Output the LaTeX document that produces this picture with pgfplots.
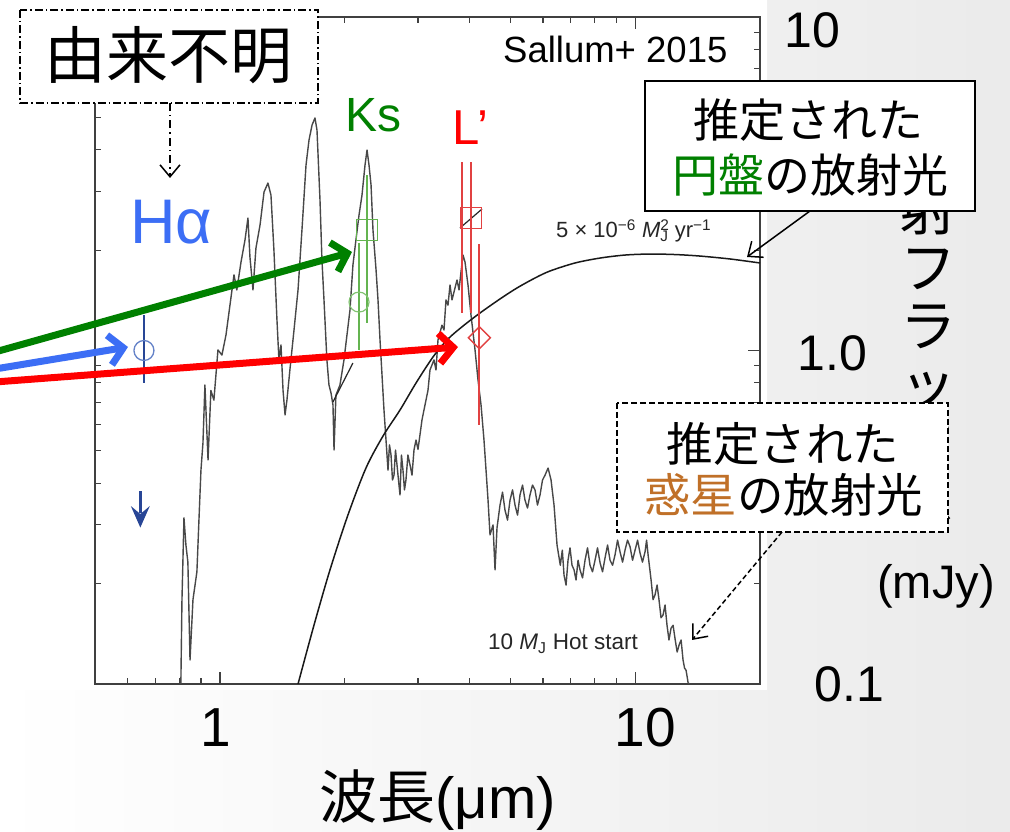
\documentclass[border=0pt]{standalone}
\usepackage{fontspec}
\setmainfont{Liberation Sans}
\newfontfamily\jp{Noto Sans CJK JP}
\usepackage{pgfplots}
\pgfplotsset{compat=1.18}
\usetikzlibrary{arrows.meta}

\definecolor{sgreen}{RGB}{0,128,0}
\definecolor{sred}{RGB}{255,0,0}
\definecolor{sblue}{RGB}{60,110,245}
\definecolor{sorange}{RGB}{192,112,40}
\definecolor{dgreen}{RGB}{100,180,80}
\definecolor{dred}{RGB}{225,65,65}
\definecolor{dblue}{RGB}{100,130,200}
\definecolor{dnavy}{RGB}{40,70,150}
\definecolor{specgray}{RGB}{72,72,72}

\pgfdeclareplotmark{uplim}{%
  \pgfsetlinewidth{2.6pt}%
  \pgfpathmoveto{\pgfqpoint{0pt}{0pt}}%
  \pgfpathlineto{\pgfqpoint{0pt}{-22pt}}%
  \pgfusepathqstroke
  \pgfpathmoveto{\pgfqpoint{0pt}{-36.5pt}}%
  \pgfpathlineto{\pgfqpoint{-9.5pt}{-15pt}}%
  \pgfpathlineto{\pgfqpoint{0pt}{-23pt}}%
  \pgfpathlineto{\pgfqpoint{9.5pt}{-15pt}}%
  \pgfpathclose
  \pgfusepathqfill
}

\begin{document}
\begin{tikzpicture}[x=1pt,y=1pt]
\useasboundingbox (0,0) rectangle (1010,832);
\clip (0,0) rectangle (1010,832);
\shade[left color=white, right color=black!8] (0,0) rectangle (1010,832);
\fill[white] (0,142) rectangle (767,832);

% y-axis title (partly hidden by the boxes)
\node[font=\jp\fontsize{56}{58}\selectfont, align=center, inner sep=0pt] at (928,508) {放\\射\\フ\\ラ\\ッ\\ク\\ス};
\node[font=\fontsize{47}{50}\selectfont, inner sep=0pt] at (936,246) {(mJy)};

\begin{axis}[
  at={(95pt,148pt)}, anchor=south west, scale only axis,
  width=665pt, height=667pt,
  xmode=log, ymode=log,
  xmin=0.5, xmax=20, ymin=0.1, ymax=10,
  axis line style={draw=black!75, line width=1.3pt},
  xtick={1,10}, ytick={0.1,1,10},
  minor xtick={0.6,0.7,0.8,0.9,2,3,4,5,6,7,8,9},
  minor ytick={0.2,0.3,0.4,0.5,0.6,0.7,0.8,0.9,2,3,4,5,6,7,8,9},
  major tick length=12pt, minor tick length=6pt,
  every tick/.style={draw=black!75, line width=1.1pt},
  xticklabels={}, yticklabels={},
  yticklabel pos=right,
  extra x ticks={0.978,10.57},
  extra x tick labels={1,10},
  extra x tick style={major tick length=0pt, xticklabel style={font=\fontsize{55}{60}\selectfont, inner sep=0pt, anchor=north, yshift=-24pt}},
  extra y ticks={9.11,0.9795,0.1},
  extra y tick labels={10,\hspace*{13pt}1.0,\hspace*{30pt}0.1},
  extra y tick style={major tick length=0pt, yticklabel style={font=\fontsize{50}{55}\selectfont, inner sep=0pt, anchor=west, xshift=24.5pt}},
]
% model spectrum: 10 M_J hot start
\addplot[specgray, line width=1.4pt, line join=round] table {
x y
0.805 0.100
0.810 0.179
0.819 0.315
0.828 0.261
0.837 0.232
0.847 0.118
0.861 0.179
0.880 0.217
0.890 0.310
0.900 0.438
0.910 0.528
0.920 0.788
0.936 0.470
0.951 0.759
0.967 0.710
0.989 1.004
1.011 0.969
1.034 1.113
1.057 1.367
1.081 1.685
1.098 1.519
1.124 1.843
1.149 2.144
1.168 2.496
1.181 1.907
1.201 1.519
1.221 2.029
1.249 2.379
1.277 2.987
1.305 3.178
1.327 2.926
1.349 2.002
1.372 1.234
1.387 0.937
1.403 1.039
1.419 0.759
1.435 0.641
1.450 0.710
1.474 0.874
1.508 1.152
1.542 1.519
1.576 2.298
1.612 3.599
1.639 4.278
1.667 4.744
1.694 4.979
1.713 4.583
1.742 2.826
1.761 1.868
1.781 1.418
1.810 0.937
1.831 0.788
1.852 0.746
1.872 0.686
1.883 0.503
1.903 0.735
1.946 0.788
1.990 0.937
2.023 1.113
2.057 1.322
2.091 1.804
2.126 2.144
2.163 2.549
2.199 2.926
2.236 3.599
2.261 3.992
2.286 3.599
2.312 3.135
2.337 2.298
2.377 1.744
2.403 1.418
2.430 1.075
2.457 0.844
2.484 0.663
2.512 0.539
2.540 0.438
2.561 0.521
2.583 0.486
2.604 0.409
2.626 0.423
2.648 0.503
2.670 0.454
2.692 0.409
2.715 0.369
2.737 0.486
2.760 0.438
2.783 0.382
2.806 0.409
2.837 0.486
2.870 0.454
2.902 0.423
2.934 0.503
2.967 0.539
3.000 0.505
3.067 0.619
3.101 0.663
3.136 0.710
3.171 0.760
3.206 0.874
3.278 0.937
3.315 0.874
3.352 1.075
3.427 1.191
3.465 1.152
3.504 1.418
3.543 1.367
3.583 1.572
3.623 1.418
3.663 1.497
3.725 1.627
3.767 1.519
3.808 1.720
3.851 1.933
3.894 1.843
3.959 1.572
4.025 1.278
4.116 1.004
4.185 0.816
4.256 0.686
4.326 0.539
4.375 0.438
4.424 0.356
4.473 0.280
4.548 0.300
4.599 0.220
4.650 0.294
4.728 0.344
4.794 0.376
4.861 0.332
4.929 0.310
4.998 0.356
5.068 0.382
5.139 0.344
5.211 0.321
5.283 0.369
5.357 0.395
5.431 0.356
5.507 0.337
5.584 0.369
5.662 0.395
5.741 0.382
5.821 0.344
5.903 0.369
5.986 0.409
6.070 0.423
6.172 0.444
6.275 0.409
6.380 0.344
6.488 0.261
6.606 0.227
6.680 0.252
6.744 0.212
6.820 0.198
6.895 0.235
6.972 0.256
7.050 0.227
7.129 0.220
7.208 0.205
7.289 0.235
7.370 0.220
7.473 0.208
7.578 0.235
7.684 0.256
7.790 0.227
7.899 0.217
8.009 0.235
8.121 0.256
8.235 0.231
8.350 0.217
8.467 0.239
8.586 0.261
8.705 0.235
8.827 0.227
8.950 0.244
9.075 0.270
9.201 0.249
9.330 0.232
9.460 0.252
9.592 0.270
9.726 0.258
9.862 0.235
10.00 0.252
10.14 0.270
10.28 0.247
10.42 0.232
10.57 0.249
10.66 0.270
10.75 0.244
10.93 0.205
11.05 0.179
11.17 0.185
11.30 0.198
11.42 0.179
11.55 0.158
11.68 0.161
11.81 0.1725
11.94 0.150
12.07 0.1355
12.21 0.147
12.35 0.150
12.49 0.136
12.63 0.1247
12.77 0.131
12.91 0.1355
13.05 0.118
13.16 0.1116
13.27 0.110
13.42 0.101
13.60 0.099
};
% accretion model curve
\addplot[black!90, line width=1.5pt, smooth] table {
x y
1.542 0.100
1.685 0.1502
1.841 0.2197
2.034 0.3212
2.248 0.4443
2.471 0.5541
2.715 0.6631
2.967 0.7990
3.260 0.9561
3.543 1.0825
3.851 1.1841
4.232 1.2956
4.728 1.4275
5.196 1.5401
5.741 1.6497
6.240 1.7315
7.168 1.8299
8.235 1.8935
9.460 1.9331
10.87 1.9465
12.49 1.9398
14.34 1.9198
16.94 1.8812
20.00 1.8299
};
\addplot[black!85, line width=1.2pt] coordinates {(1.872,0.7008) (2.091,0.9174)};
\addplot[black!85, line width=1.2pt] coordinates {(3.787,2.330) (4.279,2.656)};

% H-alpha
\addplot[only marks, mark=o, mark size=10pt, mark options={draw=dblue, line width=1.3pt},
  error bars/.cd, y dir=both, y explicit, error mark=none, error bar style={draw=dnavy, line width=2pt}]
  coordinates {(0.656,1.0) += (0,0.278) -= (0,0.201)};
\addplot[only marks, mark=uplim, mark options={draw=dnavy, fill=dnavy}] coordinates {(0.643,0.379)};
% Ks
\addplot[only marks, mark=o, mark size=10pt, mark options={draw=dgreen!80, line width=1.2pt},
  error bars/.cd, y dir=both, y explicit, error mark=none, error bar style={draw=dgreen, line width=2pt}]
  coordinates {(2.163,1.397) += (0,0.703) -= (0,0.394)};
\addplot[only marks, mark=square, mark size=10.3pt, mark options={draw=dgreen, line width=1.5pt},
  error bars/.cd, y dir=both, y explicit, error mark=none, error bar style={draw=dgreen, line width=2pt}]
  coordinates {(2.261,2.298) += (0,1.061) -= (0,1.089)};
% L'
\addplot[draw=none, mark=none,
  error bars/.cd, y dir=both, y explicit, error mark=none, error bar style={draw=dred, line width=2pt}]
  coordinates {(3.823,2.184) += (0,1.498) -= (0,0.888)};
\addplot[only marks, mark=square, mark size=10.5pt, mark options={draw=dred, line width=1.5pt},
  error bars/.cd, y dir=both, y explicit, error mark=none, error bar style={draw=dred, line width=2pt}]
  coordinates {(4.025,2.496) += (0,1.187) -= (0,1.201)};
\addplot[only marks, mark=square, mark size=7.8pt, mark options={draw=dred, line width=1.5pt, rotate=45},
  error bars/.cd, y dir=both, y explicit, error mark=none, error bar style={draw=dred, line width=2pt}]
  coordinates {(4.216,1.092) += (0,0.994) -= (0,0.495)};
\end{axis}

% figure texts
\node[anchor=base west, inner sep=0pt, font=\fontsize{36.5}{40}\selectfont] at (503,769) {Sallum+ 2015};
\node[anchor=base west, inner sep=0pt, font=\fontsize{22}{24}\selectfont, text=black!85] at (556,594)
  {5 × 10\textsuperscript{−6} \textit{M}\rlap{\textsuperscript{2}}\textsubscript{J} yr\textsuperscript{−1}};
\node[anchor=base west, inner sep=0pt, font=\fontsize{22.5}{25}\selectfont, text=black!85] at (488,182)
  {10 \textit{M}\textsubscript{J} Hot start};

% slide labels
\node[inner sep=0pt, font=\fontsize{63}{66}\selectfont, text=sblue] at (171,609.5) {Hα};
\node[inner sep=0pt, font=\fontsize{48}{50}\selectfont, text=sgreen] at (373.5,717) {Ks};
\node[inner sep=0pt, font=\fontsize{49}{52}\selectfont, text=sred] at (470.5,704.5) {L’};

% slide arrows
\draw[sgreen, line width=7pt, -{Straight Barb[length=14pt,width=30pt]}] (-5,480) -- (352,580);
\draw[sblue, line width=7pt, -{Straight Barb[length=14pt,width=30pt]}] (-5,463) -- (128,485);
\draw[sred, line width=7pt, -{Straight Barb[length=14pt,width=30pt]}] (-5,450) -- (458,485);

% unknown-origin box
\draw[line width=1.5pt, dash pattern=on 8pt off 3pt on 1.5pt off 3pt, fill=white] (20,822) rectangle (318,729);
\node[inner sep=0pt, font=\jp\fontsize{62}{66}\selectfont] at (168.5,777) {由来不明};
\draw[line width=1.5pt, dash pattern=on 8pt off 4pt on 1.5pt off 4pt, -{Straight Barb[length=12pt,width=20pt]}] (170,729) -- (170,654);

% disk box
\draw[line width=1.5pt, -{Straight Barb[length=12pt,width=20pt]}] (810,621) -- (747,575);
\draw[line width=1.5pt, fill=white] (645,751) rectangle (975,621);
\node[inner sep=0pt, font=\jp\fontsize{46}{50}\selectfont] at (808,712) {推定された};
\node[inner sep=0pt, font=\jp\fontsize{46}{50}\selectfont] at (810,657) {{\color{sgreen}円盤}の放射光};

% planet box
\draw[line width=1.5pt, dash pattern=on 5pt off 3pt, -{Straight Barb[length=12pt,width=20pt]}] (782,300) -- (692,192);
\draw[line width=1.5pt, dash pattern=on 6pt off 3pt, fill=white] (617,429) rectangle (948,300);
\node[inner sep=0pt, font=\jp\fontsize{46.5}{50}\selectfont] at (783,388.5) {推定された};
\node[inner sep=0pt, font=\jp\fontsize{46.5}{50}\selectfont] at (783.5,337) {{\color{sorange}惑星}の放射光};

% x-axis title
\node[anchor=base, inner sep=0pt, font=\fontsize{58}{60}\selectfont] at (437.5,13) {{\jp 波長}(μm)};
\end{tikzpicture}
\end{document}
